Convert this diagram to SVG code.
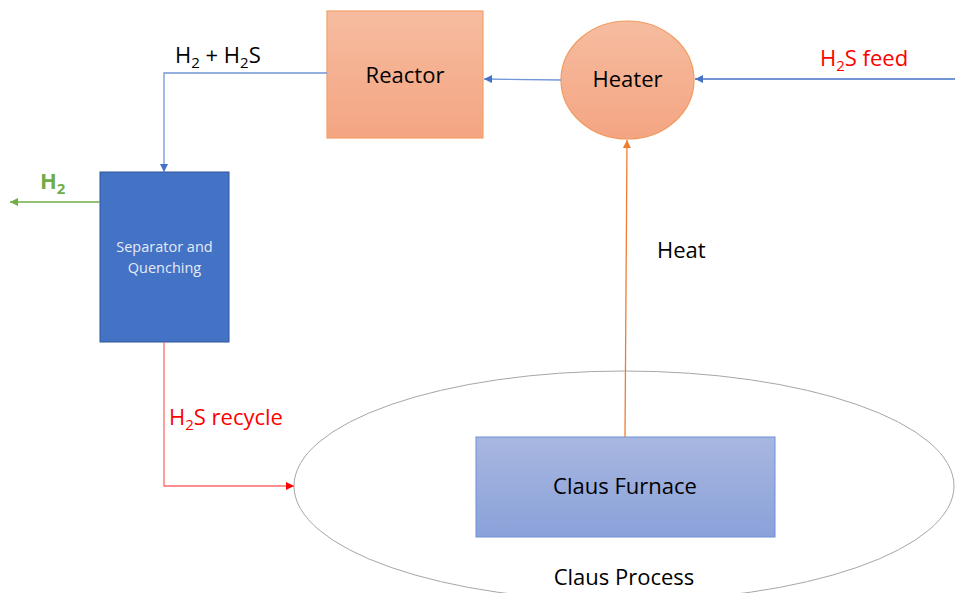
<svg xmlns="http://www.w3.org/2000/svg" width="955" height="593" viewBox="0 0 955 593">
  <defs>
    <linearGradient id="gOrange" x1="0" y1="0" x2="0" y2="1">
      <stop offset="0" stop-color="#F6BCA0"/>
      <stop offset="1" stop-color="#F4A582"/>
    </linearGradient>
    <linearGradient id="gBlue" x1="0" y1="0" x2="0" y2="1">
      <stop offset="0" stop-color="#A8B7E0"/>
      <stop offset="1" stop-color="#8AA1D9"/>
    </linearGradient>
    <marker id="aBlue" viewBox="0 0 10 10" refX="10" refY="5" markerUnits="userSpaceOnUse" markerWidth="9" markerHeight="8" orient="auto">
      <path d="M0,0 L10,5 L0,10 Z" fill="#4472C4"/>
    </marker>
    <marker id="aGreen" viewBox="0 0 10 10" refX="10" refY="5" markerUnits="userSpaceOnUse" markerWidth="9" markerHeight="8" orient="auto">
      <path d="M0,0 L10,5 L0,10 Z" fill="#70AD47"/>
    </marker>
    <marker id="aRed" viewBox="0 0 10 10" refX="10" refY="5" markerUnits="userSpaceOnUse" markerWidth="9" markerHeight="8" orient="auto">
      <path d="M0,0 L10,5 L0,10 Z" fill="#FF0000"/>
    </marker>
    <marker id="aOrange" viewBox="0 0 10 10" refX="10" refY="5" markerUnits="userSpaceOnUse" markerWidth="9" markerHeight="8" orient="auto">
      <path d="M0,0 L10,5 L0,10 Z" fill="#ED7D31"/>
    </marker>
  </defs>
  <style>
    text { font-family: "Open Sans", "Liberation Sans", sans-serif; font-size: 22px; fill: #000; }
    .red { fill: #FF0000; }
    .green { fill: #70AD47; font-weight: bold; }
    .sep { fill: #E4EAF6; font-size: 14.5px; }
    .mid { text-anchor: middle; }
    .conn { fill: none; stroke-width: 1.3; }
  </style>
  <rect width="955" height="593" fill="#FFFFFF"/>

  <!-- Claus process boundary -->
  <g id="claus-process">
    <ellipse cx="624" cy="486" rx="330" ry="115" fill="none" stroke="#A6A6A6" stroke-width="1"/>
    <text class="mid" x="624" y="585">Claus Process</text>
  </g>

  <g id="claus-furnace">
    <rect x="476" y="437" width="299" height="100" fill="url(#gBlue)" stroke="#6E8FD6" stroke-width="1"/>
    <text class="mid" x="625" y="494">Claus Furnace</text>
  </g>

  <g id="reactor">
    <rect x="327" y="11" width="156" height="127" fill="url(#gOrange)" stroke="#F4A066" stroke-width="1.2"/>
    <text class="mid" x="405" y="83">Reactor</text>
  </g>

  <g id="heater">
    <ellipse cx="627.5" cy="80" rx="66.5" ry="59" fill="url(#gOrange)" stroke="#F09A5E" stroke-width="1.2"/>
    <text class="mid" x="627.5" y="87">Heater</text>
  </g>

  <g id="separator">
    <rect x="100" y="172" width="129" height="170" fill="#4472C4" stroke="#2F5597" stroke-width="1"/>
    <text class="sep mid" x="164.5" y="252">Separator and</text>
    <text class="sep mid" x="164.5" y="273">Quenching</text>
  </g>

  <g id="connectors">
    <!-- feed into heater -->
    <line class="conn" x1="955" y1="79" x2="695" y2="79" stroke="#4472C4" marker-end="url(#aBlue)"/>
    <!-- heater to reactor -->
    <line class="conn" x1="561" y1="80" x2="484" y2="79" stroke="#7297D6" marker-end="url(#aBlue)"/>
    <!-- reactor outlet to separator -->
    <polyline class="conn" points="327,73 164,73 164,172" stroke="#7297D6" marker-end="url(#aBlue)"/>
    <!-- hydrogen product -->
    <line class="conn" x1="100" y1="202" x2="10" y2="202" stroke="#70AD47" marker-end="url(#aGreen)"/>
    <!-- recycle to Claus -->
    <polyline class="conn" points="164,342 164,486 294,486" stroke="#FF6B6B" marker-end="url(#aRed)"/>
    <!-- heat from furnace -->
    <line class="conn" x1="625" y1="437" x2="627" y2="140" stroke="#ED7D31" stroke-width="1.8" marker-end="url(#aOrange)"/>

    <text x="175" y="63">H<tspan font-size="15" dy="5">2</tspan><tspan dy="-5"> + H</tspan><tspan font-size="15" dy="5">2</tspan><tspan dy="-5">S</tspan></text>
    <text class="red" x="820" y="66">H<tspan font-size="15" dy="5">2</tspan><tspan dy="-5">S feed</tspan></text>
    <text class="green" x="40" y="189">H<tspan font-size="15" dy="5">2</tspan></text>
    <text class="red" x="169" y="425">H<tspan font-size="15" dy="5">2</tspan><tspan dy="-5">S recycle</tspan></text>
    <text x="657" y="258">Heat</text>
  </g>
</svg>
